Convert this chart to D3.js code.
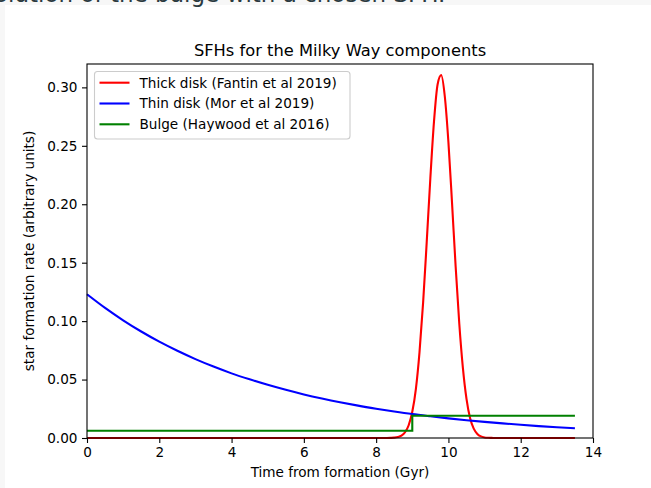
<!DOCTYPE html>
<html>
<head>
<meta charset="utf-8">
<script src="https://cdn.jsdelivr.net/npm/d3@7"></script>
<style>
  html, body { margin: 0; padding: 0; background: #f7f7f7; overflow: hidden; }
  svg { display: block; }
  text { font-family: "DejaVu Sans", sans-serif; }
</style>
</head>
<body>
<svg id="chart" width="651" height="488"></svg>
<script>
// ---- data ----
const titleText = "SFHs for the Milky Way components";
const xLabel = "Time from formation (Gyr)";
const yLabel = "star formation rate (arbitrary units)";
const captionText = "olution of the bulge with a chosen SFH.";

const seriesNames = ["Thick disk (Fantin et al 2019)", "Thin disk (Mor et al 2019)", "Bulge (Haywood et al 2016)"];
const seriesColors = ["#ff0000", "#0000ff", "#008000"];

const xTicks = [0, 2, 4, 6, 8, 10, 12, 14];
const yTicks = [0.00, 0.05, 0.10, 0.15, 0.20, 0.25, 0.30];

// Thick disk (time, value)
const thickT = [0, 8.3, 8.4, 8.5, 8.6, 8.7, 8.8, 8.9, 9.0, 9.1, 9.2, 9.3, 9.4, 9.5, 9.6, 9.7, 9.8,
                9.9, 10.0, 10.1, 10.2, 10.3, 10.4, 10.5, 10.6, 10.7, 10.8, 10.9, 11.0, 11.1, 11.2, 11.3, 13.5];
const thickV = [0, 0.0000, 0.0001, 0.0003, 0.0008, 0.0020, 0.0049, 0.0109, 0.0224, 0.0421, 0.0735, 0.1160,
                0.1680, 0.2225, 0.2705, 0.3025, 0.3105, 0.2922, 0.2530, 0.2010, 0.1465, 0.0980, 0.0600,
                0.0335, 0.0168, 0.0080, 0.0035, 0.0014, 0.0005, 0.0002, 0.0001, 0.0000, 0];

// Thin disk (time, value)
const thinT = [0, 0.5, 1, 1.5, 2, 2.5, 3, 3.5, 4, 4.5, 5, 5.5, 6, 6.5, 7, 7.5, 8, 8.5, 9, 9.5,
               10, 10.5, 11, 11.5, 12, 12.5, 13, 13.5];
const thinV = [0.1230, 0.1113, 0.1007, 0.0911, 0.0824, 0.0746, 0.0675, 0.0611, 0.0553, 0.0502,
               0.0455, 0.0412, 0.0373, 0.0338, 0.0306, 0.0277, 0.0251, 0.0227, 0.0205, 0.0186,
               0.0168, 0.0152, 0.0138, 0.0125, 0.0113, 0.0102, 0.0092, 0.0083];

// Bulge step (time, value)
const bulgeT = [0, 9.0, 13.5];
const bulgeV = [0.0062, 0.0190, 0.0190];

// ---- layout ----
const svg = d3.select("#chart");
const W = 651, H = 488;
const L = 87, R = 593, T = 64, B = 438;

svg.append("rect").attr("x", 5).attr("y", 5).attr("width", W - 5).attr("height", H - 5).attr("fill", "#ffffff");

svg.append("text").attr("x", -6).attr("y", 2)
  .attr("font-size", 23).attr("fill", "#2b3a3f").text(captionText);

const x = d3.scaleLinear().domain([0, 14]).range([L, R]);
const y = d3.scaleLinear().domain([0, 0.32]).range([B, T]);

const fontSize = 13.6;

// lines
const mk = (ts, vs) => ts.map((t, i) => [t, vs[i]]);
const plot = svg.append("g");
plot.append("path").datum(mk(thickT, thickV))
  .attr("d", d3.line().x(d => x(d[0])).y(d => y(d[1])).curve(d3.curveMonotoneX))
  .attr("fill", "none").attr("stroke", seriesColors[0]).attr("stroke-width", 2.1);
plot.append("path").datum(mk(thinT, thinV))
  .attr("d", d3.line().x(d => x(d[0])).y(d => y(d[1])).curve(d3.curveMonotoneX))
  .attr("fill", "none").attr("stroke", seriesColors[1]).attr("stroke-width", 2.1);
plot.append("path").datum(mk(bulgeT, bulgeV))
  .attr("d", d3.line().x(d => x(d[0])).y(d => y(d[1])).curve(d3.curveStepAfter))
  .attr("fill", "none").attr("stroke", seriesColors[2]).attr("stroke-width", 2.1);

// axes
const xAxis = svg.append("g").attr("transform", `translate(0,${B})`)
  .call(d3.axisBottom(x).tickValues(xTicks).tickFormat(d3.format("d")).tickSize(5).tickPadding(4.5));
const yAxis = svg.append("g").attr("transform", `translate(${L},0)`)
  .call(d3.axisLeft(y).tickValues(yTicks).tickFormat(d3.format(".2f")).tickSize(5).tickPadding(4.5));
[xAxis, yAxis].forEach(g => {
  g.select(".domain").remove();
  g.selectAll(".tick line").attr("stroke", "#000").attr("stroke-width", 1.1);
  g.selectAll(".tick text").attr("font-size", fontSize).attr("fill", "#000")
    .attr("font-family", "DejaVu Sans, sans-serif");
});

// frame
svg.append("rect").attr("x", L).attr("y", T).attr("width", R - L).attr("height", B - T)
  .attr("fill", "none").attr("stroke", "#000").attr("stroke-width", 1.1);

// title and labels
svg.append("text").attr("x", (L + R) / 2).attr("y", 55.5).attr("text-anchor", "middle")
  .attr("font-size", 16.3).attr("fill", "#000").text(titleText);
svg.append("text").attr("x", (L + R) / 2).attr("y", 477).attr("text-anchor", "middle")
  .attr("font-size", fontSize).attr("fill", "#000").text(xLabel);
svg.append("text").attr("transform", `translate(34,${(T + B) / 2}) rotate(-90)`).attr("text-anchor", "middle")
  .attr("font-size", fontSize).attr("fill", "#000").text(yLabel);

// legend
const lg = svg.append("g");
lg.append("rect").attr("x", 94.5).attr("y", 71.5).attr("width", 255.5).attr("height", 67.5)
  .attr("rx", 3).attr("fill", "#fff").attr("fill-opacity", 0.8)
  .attr("stroke", "#cccccc").attr("stroke-width", 1.1);
seriesNames.forEach((name, i) => {
  const cy = 82.7 + i * 20.8;
  lg.append("line").attr("x1", 99.5).attr("x2", 129.5).attr("y1", cy).attr("y2", cy)
    .attr("stroke", seriesColors[i]).attr("stroke-width", 2.1);
  lg.append("text").attr("x", 139.5).attr("y", cy + 4.9).attr("font-size", fontSize)
    .attr("fill", "#000").text(name);
});
</script>
</body>
</html>
